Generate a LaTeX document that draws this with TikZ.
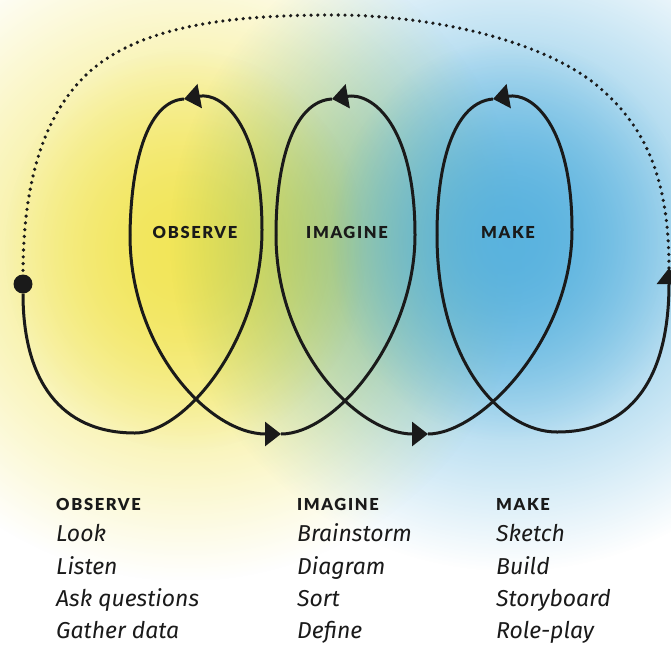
\documentclass[tikz,border=0pt]{standalone}
\usepackage{fontspec}
\setmainfont{Fira Sans}
\newfontfamily\phasefont{Lato}[LetterSpace=10, BoldFont={Lato Black}]
\usetikzlibrary{arrows.meta,fadings}

\definecolor{obsyellow}{HTML}{F2E65A}
\definecolor{makeblue}{HTML}{5AB3DF}
\definecolor{ink}{HTML}{1A1A1A}

\tikzfading[name=blob, inner color=transparent!0, outer color=transparent!100]

\tikzset{
  loopline/.style={draw=ink, line width=3pt},
  looparrow/.style={loopline, -{Triangle[length=16pt,width=24pt]}},
  dotline/.style={draw=ink, line width=3.6pt, line cap=round, dash pattern=on 0pt off 6.8pt},
  phase/.style={font=\phasefont\bfseries\fontsize{16.5}{16.5}\selectfont, text=ink},
  head/.style={phase, anchor=base west, inner sep=0pt},
  item/.style={font=\itshape\fontsize{23}{23}\selectfont, text=ink, anchor=base west, inner sep=0pt},
}

\begin{document}
\begin{tikzpicture}[x=1pt,y=-1pt]
    \useasboundingbox (0,0) rectangle (671,646);
    \clip (0,0) rectangle (671,646);
    % background ============================================
    \fill[white] (0,0) rectangle (671,646);
    \fill[obsyellow, path fading=blob] (-155,-80) rectangle (525,580);
    \fill[obsyellow, path fading=blob] (5,50) rectangle (365,450);
    \fill[makeblue, path fading=blob, blend mode=multiply] (170,-90) rectangle (850,570);
    \fill[makeblue, path fading=blob] (330,40) rectangle (690,440);
    % loop path ============================================
    \node[circle, fill=ink, inner sep=0pt, minimum size=19pt] (start) at (23,284) {};
    \coordinate (bot0)   at (135,433);
    \coordinate (right1) at (262,230);
    \coordinate (top1)   at (184,99);
    \coordinate (left1)  at (130,235);
    \coordinate (bot1)   at (281,434);
    \coordinate (right2) at (415,235);
    \coordinate (top2)   at (332,99);
    \coordinate (left2)  at (276,235);
    \coordinate (bot2)   at (428,434);
    \coordinate (right3) at (572,230);
    \coordinate (top3)   at (493,99);
    \coordinate (left3)  at (437,235);
    \coordinate (bot3)   at (557,432);
    \coordinate (end)    at (669,268);
    \coordinate (rshoulder) at (600,88);
    \coordinate (apex)   at (334,15);
    \coordinate (lshoulder) at (86,75);
    % observe
    \draw[loopline] (start) .. controls (23,380) and (60,433) .. (bot0) .. controls (185,433) and (262,340) .. (right1);
    \draw[looparrow] (right1) .. controls (262,125) and (222,92) .. (top1);
    \draw[loopline] (top1) .. controls (150,101) and (131,155) .. (left1);
    \draw[looparrow] (left1) .. controls (130,350) and (210,434) .. (bot1);
    % imagine
    \draw[loopline] (bot1) .. controls (335,434) and (415,340) .. (right2);
    \draw[looparrow] (right2) .. controls (415,125) and (372,92) .. (top2);
    \draw[loopline] (top2) .. controls (296,101) and (276,155) .. (left2);
    \draw[looparrow] (left2) .. controls (276,350) and (358,434) .. (bot2);
    % make
    \draw[loopline] (bot2) .. controls (480,434) and (572,340) .. (right3);
    \draw[looparrow] (right3) .. controls (572,125) and (532,92) .. (top3);
    \draw[loopline] (top3) .. controls (457,102) and (437,155) .. (left3);
    \draw[looparrow] (left3) .. controls (437,360) and (500,432) .. (bot3) .. controls (630,432) and (669,380) .. (end);
    % back to the start
    \draw[dotline] (end) .. controls (669,170) and (640,123) .. (rshoulder) .. controls (545,40) and (430,15) .. (apex)
                         .. controls (240,15) and (140,23) .. (lshoulder) .. controls (55,105) and (23,160) .. (start);
    % Labels
    \node[phase] (observe) at (195,232) {OBSERVE};
    \node[phase] (imagine) at (347,232) {IMAGINE};
    \node[phase] (make)    at (508,232) {MAKE};
    % list ====================================================
    \node[head] (OBS)  at (56,510)  {OBSERVE};
    \node[item] (OBS1) at (56,541)  {Look};
    \node[item] (OBS2) at (56,574)  {Listen};
    \node[item] (OBS3) at (56,606)  {Ask questions};
    \node[item] (OBS4) at (56,638)  {Gather data};
    \node[head] (IMA)  at (297,510) {IMAGINE};
    \node[item] (IMA1) at (297,541) {Brainstorm};
    \node[item] (IMA2) at (297,574) {Diagram};
    \node[item] (IMA3) at (297,606) {Sort};
    \node[item] (IMA4) at (297,638) {Define};
    \node[head] (MAK)  at (496,510) {MAKE};
    \node[item] (MAK1) at (496,541) {Sketch};
    \node[item] (MAK2) at (496,574) {Build};
    \node[item] (MAK3) at (496,606) {Storyboard};
    \node[item] (MAK4) at (496,638) {Role-play};
\end{tikzpicture}
\end{document}
